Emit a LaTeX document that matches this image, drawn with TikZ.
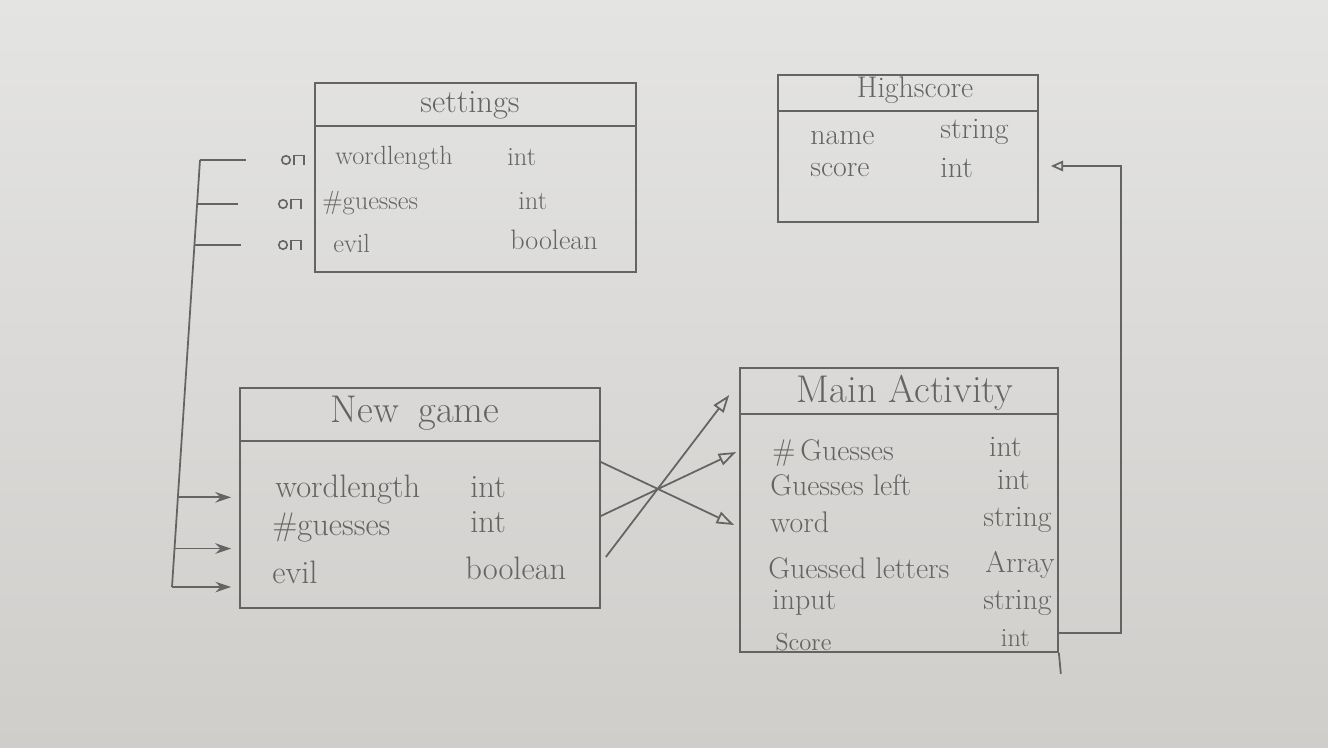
\documentclass[tikz,border=0pt]{standalone}
\usepackage{tikz}
\usetikzlibrary{arrows.meta,calc}

\definecolor{pencil}{RGB}{100,100,100}
\definecolor{papertop}{RGB}{228,228,227}
\definecolor{paperbot}{RGB}{208,206,203}

\tikzset{
  pencil line/.style={draw=pencil, line width=1pt},
  classbox/.style={pencil line, rectangle, inner sep=0pt},
  classtitle/.style={text=pencil, inner sep=0pt, font=\fontsize{#1}{#1}\selectfont},
  attr/.style={anchor=west, text=pencil, inner sep=0pt, font=\fontsize{#1}{#1}\selectfont},
  attrtype/.style={anchor=east, text=pencil, inner sep=0pt, font=\fontsize{#1}{#1}\selectfont},
  togglesw/.style={minimum width=0.56cm, minimum height=0.34cm, inner sep=0pt,
    path picture={
      \draw[pencil, line width=0.9pt] ([xshift=-0.14cm]path picture bounding box.center) circle (0.085cm);
      \draw[pencil, line width=0.9pt] ([xshift=0.02cm,yshift=-0.1cm]path picture bounding box.center)
        -- ++(0,0.19cm) -- ++(0.2cm,0) -- ++(0,-0.19cm);
    }},
  feeds/.style={pencil line, -{Stealth[length=9pt,width=6pt]}},
  maps/.style={pencil line, -{Triangle[open,length=10pt,width=7pt]}},
}

\begin{document}
\begin{tikzpicture}[x=0.02cm, y=-0.02cm]
    \useasboundingbox (0,0) rectangle (1328,747);
    \shade[top color=papertop, bottom color=paperbot] (0,0) rectangle (1328,747);

    % settings
    \node[classbox, minimum width=6.42cm, minimum height=3.78cm] (setbox) at (475.5,177.5) {};
    \draw[pencil line] ([yshift=-0.88cm]setbox.north west) -- ([yshift=-0.88cm]setbox.north east);
    \node[classtitle=18.5] (setTitle) at (470,105) {settings};
    \node[attr=15] (setWordlength) at (335,158) {wordlength};
    \node[attr=15] (setGuesses) at (322,203) {\#guesses};
    \node[attr=15] (setEvil) at (333,243) {evil};
    \node[attr=15] at (507,157) {int};
    \node[attr=15] at (518,201) {int};
    \node[attr=16] at (510,240) {boolean};
    \node[togglesw] (sw1) at (293,160) {};
    \node[togglesw] (sw2) at (290,204) {};
    \node[togglesw] (sw3) at (290,245) {};

    % Highscore
    \node[classbox, minimum width=5.2cm, minimum height=2.94cm] (hsbox) at (908,148.5) {};
    \draw[pencil line] ([yshift=-0.74cm]hsbox.north west) -- ([yshift=-0.74cm]hsbox.north east);
    \node[classtitle=17] (hsTitle) at (915,90) {Highscore};
    \node[attr=17] (hsName) at (810,138) {name};
    \node[attr=17] (hsScore) at (810,170) {score};
    \node[attr=17] at (940,132) {string};
    \node[attr=17] at (940,168) {int};

    % New game
    \node[classbox, minimum width=7.2cm, minimum height=4.4cm] (ngbox) at (420,498) {};
    \draw[pencil line] ([yshift=-1.08cm]ngbox.north west) -- ([yshift=-1.08cm]ngbox.north east);
    \node[classtitle=22] (ngTitle) at (415,413) {New\hspace{0.5em}game};
    \node[attr=18.5] (ngWordlength) at (275,490) {wordlength};
    \node[attr=18.5] (ngGuesses) at (272,528) {\#guesses};
    \node[attr=18.5] (ngEvil) at (272,572) {evil};
    \node[attr=18.5] at (470,487) {int};
    \node[attr=18.5] at (470,522) {int};
    \node[attr=18.5] at (465,568) {boolean};

    % Main Activity
    \node[classbox, minimum width=6.36cm, minimum height=5.68cm] (mabox) at (899,510) {};
    \draw[pencil line] ([yshift=-0.94cm]mabox.north west) -- ([yshift=-0.94cm]mabox.north east);
    \draw[pencil line] (mabox.south east) -- ++(0.04cm,-0.42cm);
    \node[classtitle=22] (maTitle) at (905,393) {Main\hspace{0.3em}Activity};
    \node[attr=17] (maGuesses) at (772,453) {\#\,Guesses};
    \node[attr=17] (maLeft) at (770,485) {Guesses left};
    \node[attr=17] (maWord) at (770,522) {word};
    \node[attr=17] (maLetters) at (768,568) {Guessed letters};
    \node[attr=17] (maInput) at (772,603) {input};
    \node[attr=14] (maScore) at (775,642) {Score};
    \node[attrtype=17] at (1022,447) {int};
    \node[attrtype=17] at (1030,480) {int};
    \node[attrtype=17] at (1052,520) {string};
    \node[attrtype=17] at (1055,565) {Array};
    \node[attrtype=17] at (1052,603) {string};
    \node[attrtype=15] at (1030,638) {int};

    % settings -> New game
    \coordinate (busTop) at (200,160);
    \coordinate (busBot) at (172,587);
    \foreach \t/\n in {0/a, 0.105/b, 0.2/c, 0.79/d, 0.91/e, 1/f}
        \coordinate (bus\n) at ($(busTop)!\t!(busBot)$);
    \draw[pencil line] (busTop) -- (busBot);
    \draw[pencil line] (busa) -- ([xshift=-0.65cm]sw1.west);
    \draw[pencil line] (busb |- sw2) -- ([xshift=-0.75cm]sw2.west);
    \draw[pencil line] (busc |- sw3) -- ([xshift=-0.7cm]sw3.west);
    \foreach \n in {d,e,f}
        \draw[feeds] (bus\n) -- ([xshift=-0.16cm]ngbox.west |- bus\n);

    % New game -> Main Activity
    \draw[maps] ([yshift=0.72cm]ngbox.east) -- ([xshift=-0.1cm,yshift=-0.3cm]mabox.west);
    \draw[maps] ([yshift=-0.36cm]ngbox.east) -- ([xshift=-0.06cm,yshift=1.16cm]mabox.west);
    \draw[maps] ([xshift=0.1cm,yshift=-1.18cm]ngbox.east) -- ([xshift=-0.2cm,yshift=2.3cm]mabox.west);

    % Main Activity -> Highscore
    \draw[pencil line, -{Triangle[open,length=7pt,width=6pt]}]
        ([yshift=-2.46cm]mabox.east) -- ++(1.24cm,0) |- ([xshift=0.24cm,yshift=-0.35cm]hsbox.east);
\end{tikzpicture}
\end{document}
